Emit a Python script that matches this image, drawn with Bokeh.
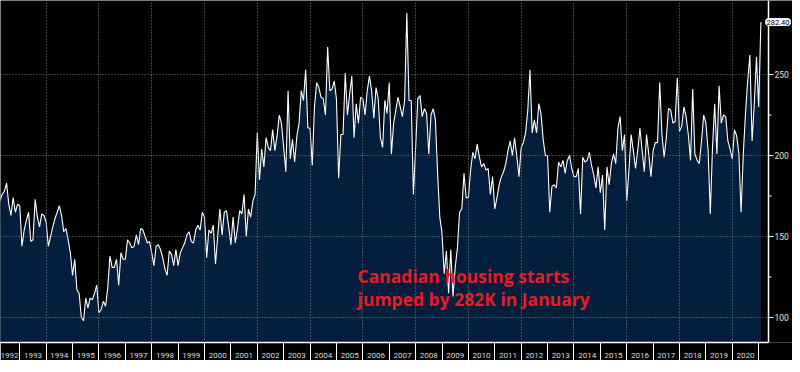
import pandas as pd
from bokeh.plotting import figure
from bokeh.models import Range1d, FixedTicker, Label, Span
from bokeh.embed import file_html
from bokeh.resources import INLINE

# ---- data (Canadian housing starts, SAAR, thousands; monthly from Feb 1992) ----
first_month = "1992-02"
starts = [
    168, 172, 176, 178, 183, 170, 163, 174, 165, 170,
    169, 144, 154, 160, 165, 147, 148, 173, 162, 156, 164, 163,
    159, 144, 150, 156, 161, 165, 169, 163, 153, 155, 148, 140,
    126, 136, 117, 115, 100, 98, 112, 106, 112, 111, 115, 120,
    103, 105, 110, 107, 118, 138, 131, 131, 136, 120, 140, 136,
    136, 148, 146, 143, 144, 151, 145, 155, 154, 150, 146, 147,
    140, 132, 144, 145, 142, 137, 130, 126, 141, 139, 132, 142,
    132, 140, 143, 146, 151, 153, 147, 146, 154, 157, 154, 165,
    162, 137, 154, 152, 157, 133, 150, 167, 151, 165, 166, 156,
    145, 162, 146, 155, 166, 164, 176, 150, 167, 162, 172, 176,
    214, 185, 204, 193, 211, 205, 203, 216, 203, 212, 225, 220,
    205, 190, 240, 198, 210, 196, 212, 220, 240, 234, 253, 217,
    217, 194, 230, 245, 242, 236, 235, 225, 267, 240, 241, 246,
    235, 186, 213, 213, 251, 225, 238, 249, 211, 232, 220, 236,
    235, 225, 240, 249, 240, 223, 242, 235, 211, 205, 234, 226,
    245, 201, 220, 228, 236, 230, 224, 234, 288, 234, 234, 176,
    205, 235, 237, 224, 229, 226, 201, 225, 229, 222, 189, 162,
    152, 127, 141, 115, 142, 113, 131, 143, 165, 167, 189, 174,
    174, 191, 202, 198, 207, 199, 193, 195, 191, 192, 176, 187,
    167, 174, 182, 187, 190, 195, 203, 209, 200, 211, 200, 187,
    205, 208, 214, 228, 253, 214, 222, 214, 232, 226, 210, 200,
    200, 165, 181, 182, 180, 196, 193, 197, 189, 197, 200, 192,
    187, 187, 192, 164, 199, 196, 197, 202, 194, 188, 180, 193,
    177, 188, 154, 193, 182, 195, 201, 195, 217, 224, 203, 213,
    172, 191, 213, 203, 192, 203, 217, 203, 190, 213, 201, 187,
    203, 208, 208, 245, 213, 199, 211, 229, 228, 220, 221, 248,
    215, 218, 230, 224, 213, 197, 241, 201, 197, 195, 209, 225,
    220, 203, 164, 205, 232, 201, 243, 220, 225, 224, 209, 204,
    198, 216, 212, 201, 165, 201, 226, 246, 262, 209, 232, 261,
    230, 282.4,
]
years = list(range(1992, 2021))
y_ticks = [100, 150, 200, 250]
y_minor = [125, 175, 225]
grid_years = list(range(1994, 2021, 2))
note_line1 = "Canadian housing starts"
note_line2 = "jumped by 282K in January"

dates = pd.date_range(first_month, periods=len(starts), freq="MS")
x = list(dates.year + dates.month / 12.0)   # month-end positions in fractional years

FRAME_W, FRAME_H = 792, 342
X0, PX_PER_YEAR = 1992.27, 26.39
x_end = X0 + FRAME_W / PX_PER_YEAR
axis_x = X0 + 768 / PX_PER_YEAR          # where the value axis sits
tick_major = 5 / PX_PER_YEAR
tick_minor = 3 / PX_PER_YEAR

p = figure(frame_width=FRAME_W, frame_height=FRAME_H, output_backend="svg",
           toolbar_location=None,
           x_range=Range1d(X0, x_end), y_range=Range1d(84.6, 295.7),
           y_axis_location=None,
           background_fill_color="black", border_fill_color="black",
           outline_line_color=None,
           min_border_left=0, min_border_top=0, min_border_right=0, min_border_bottom=0)

p.varea(x=x, y1=0, y2=starts, fill_color="#031d3c")
p.line(x, starts, line_color="white", line_width=1.1)

# grids
grid_color = "#7a7f88"
p.xgrid.ticker = FixedTicker(ticks=grid_years)
p.xgrid.grid_line_color = grid_color
p.xgrid.grid_line_dash = "1 2"
p.xgrid.level = "guide"
p.ygrid.visible = False
p.segment(x0=[X0] * len(y_ticks), y0=y_ticks, x1=[axis_x] * len(y_ticks), y1=y_ticks,
          line_color=grid_color, line_dash="1 2", line_width=1)

# bottom axis: labels mid-year, separators at year boundaries
xa = p.xaxis[0]
xa.bounds = (X0, axis_x)
xa.ticker = FixedTicker(ticks=[y + 0.5 for y in years], minor_ticks=list(range(1992, 2022)))
xa.major_label_overrides = {y + 0.5: str(y) for y in years}
xa.major_tick_line_color = None
xa.major_tick_out = 0
xa.major_tick_in = 0
xa.minor_tick_line_color = "white"
xa.minor_tick_out = 22
xa.minor_tick_in = 0
xa.axis_line_color = "white"
xa.axis_line_width = 1.5
xa.major_label_standoff = -12
xa.major_label_text_font = "Roboto"
xa.major_label_text_font_size = "8px"
xa.major_label_text_color = "#dcdcdc"

# right value axis (line, ticks, labels)
p.add_layout(Span(location=axis_x, dimension="height", line_color="white", line_width=1.5))
p.segment(x0=[axis_x] * len(y_ticks), y0=y_ticks, x1=[axis_x + tick_major] * len(y_ticks),
          y1=y_ticks, line_color="white", line_width=1)
p.segment(x0=[axis_x] * len(y_minor), y0=y_minor, x1=[axis_x + tick_minor] * len(y_minor),
          y1=y_minor, line_color="white", line_width=1)
p.text(x=[axis_x] * len(y_ticks), y=y_ticks, text=[str(t) for t in y_ticks],
       x_offset=6, text_baseline="middle", text_align="left",
       text_font={"value": "Roboto"}, text_font_size="8.5px", text_color="#e8e0d6")

# last value tag
p.add_layout(Label(x=axis_x, y=starts[-1], x_offset=-3,
                   text=f"{starts[-1]:.2f}", text_font="Roboto",
                   text_font_size="7.5px", text_color="black", text_baseline="middle",
                   background_fill_color="white", border_line_color="white",
                   padding=1, border_radius=3))

# red annotation
for txt, yy in ((note_line1, 125.7), (note_line2, 111.3)):
    p.add_layout(Label(x=2005.8, y=yy, text=txt, text_font="Open Sans",
                       text_font_style="bold", text_font_size="17.5px",
                       text_color="#e51c24", text_baseline="alphabetic"))

open("out.html", "w").write(file_html(p, INLINE))
